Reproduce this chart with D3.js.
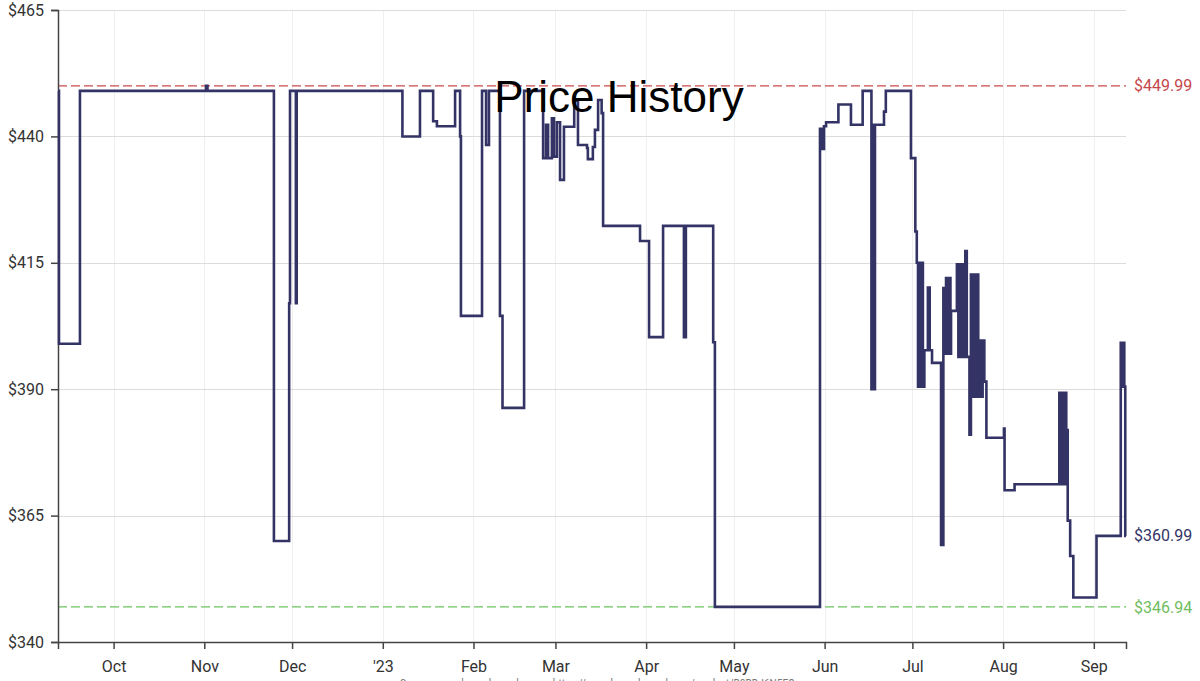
<!DOCTYPE html>
<html>
<head>
<meta charset="utf-8">
<script src="https://cdn.jsdelivr.net/npm/d3@7"></script>
<style>
  html, body { margin: 0; padding: 0; background: #fff; }
  svg { display: block; }
  .axis text { font-family: Roboto, sans-serif; font-size: 16px; fill: #333; }
  .axis path, .axis line { stroke: #444; stroke-width: 1.5; }
  .grid line { shape-rendering: crispEdges; }
</style>
</head>
<body>
<svg id="chart"></svg>
<script>
// price history, [date, price]
const priceHistory = [
  ["2022-09-12 00", 449], ["2022-09-12 08", 399], ["2022-09-19 12", 449],
  ["2022-11-01 14", 449.99], ["2022-11-02 02", 449],
  ["2022-11-24 19", 359.99], ["2022-11-30 00", 407], ["2022-11-30 07", 449],
  ["2022-12-02 07", 407], ["2022-12-02 14", 449],
  ["2023-01-07 17", 439.99], ["2023-01-13 17", 449], ["2023-01-18 05", 443],
  ["2023-01-19 12", 442], ["2023-01-25 17", 449], ["2023-01-27 10", 440],
  ["2023-01-27 17", 404.5], ["2023-02-03 22", 449], ["2023-02-05 07", 438.3],
  ["2023-02-06 07", 449], ["2023-02-10 01", 404.5], ["2023-02-10 22", 386.3],
  ["2023-02-18 07", 449], ["2023-02-24 19", 435.7], ["2023-02-25 19", 442.3],
  ["2023-02-26 12", 435.7], ["2023-02-27 19", 443.6], ["2023-02-28 12", 436],
  ["2023-03-01 12", 442.8], ["2023-03-02 14", 431.4], ["2023-03-03 22", 441.9],
  ["2023-03-07 10", 447], ["2023-03-08 17", 438.3], ["2023-03-11 19", 437.7],
  ["2023-03-12 02", 435.5], ["2023-03-13 19", 437.9], ["2023-03-14 12", 441.3],
  ["2023-03-15 14", 447.2], ["2023-03-16 19", 444.6], ["2023-03-17 07", 422.3],
  ["2023-03-29 22", 419.3], ["2023-04-02 00", 400.3], ["2023-04-06 19", 422.3],
  ["2023-04-13 22", 400.3], ["2023-04-14 14", 422.3], ["2023-04-23 22", 399.3],
  ["2023-04-24 12", 346.94],
  ["2023-05-30 10", 441.5], ["2023-05-31 02", 437.5], ["2023-05-31 19", 442],
  ["2023-06-01 12", 442.8], ["2023-06-05 17", 446.3], ["2023-06-10 00", 442.3],
  ["2023-06-14 00", 449], ["2023-06-17 00", 390], ["2023-06-17 10", 442.3],
  ["2023-06-17 20", 390], ["2023-06-18 05", 442.3], ["2023-06-21 07", 444.9],
  ["2023-06-21 22", 449], ["2023-06-30 12", 435.7], ["2023-07-02 00", 421.2],
  ["2023-07-02 12", 415], ["2023-07-02 22", 390.5], ["2023-07-03 08", 415],
  ["2023-07-03 18", 390.5], ["2023-07-04 04", 415], ["2023-07-04 14", 390.5],
  ["2023-07-05 02", 397.7], ["2023-07-06 07", 410.1], ["2023-07-06 22", 397.7],
  ["2023-07-07 17", 395.2], ["2023-07-10 19", 359.2], ["2023-07-11 14", 410],
  ["2023-07-12 00", 397], ["2023-07-12 12", 412], ["2023-07-13 00", 397],
  ["2023-07-13 12", 412], ["2023-07-14 00", 397], ["2023-07-14 05", 405.5],
  ["2023-07-16 05", 414.7], ["2023-07-16 17", 396.4], ["2023-07-17 05", 414.7],
  ["2023-07-17 17", 396.4], ["2023-07-18 05", 414.7], ["2023-07-18 17", 396.4],
  ["2023-07-19 02", 417.3], ["2023-07-19 14", 396.4], ["2023-07-20 12", 381],
  ["2023-07-21 00", 412.7], ["2023-07-21 12", 388.5], ["2023-07-22 00", 412.7],
  ["2023-07-22 12", 388.5], ["2023-07-23 00", 412.7], ["2023-07-23 12", 388.5],
  ["2023-07-24 00", 399.6], ["2023-07-24 12", 388.5], ["2023-07-25 00", 399.6],
  ["2023-07-25 14", 391.5], ["2023-07-26 07", 380.4],
  ["2023-08-01 07", 382.2], ["2023-08-01 12", 370], ["2023-08-04 22", 371.2],
  ["2023-08-20 05", 389.3], ["2023-08-20 17", 371.2], ["2023-08-21 05", 389.3],
  ["2023-08-21 17", 371.2], ["2023-08-22 05", 389.3], ["2023-08-22 14", 371.2],
  ["2023-08-22 20", 381.9], ["2023-08-23 02", 364], ["2023-08-23 22", 357],
  ["2023-08-25 00", 348.8], ["2023-09-01 22", 360.99],
  ["2023-09-10 05", 399.2], ["2023-09-10 16", 390.5], ["2023-09-11 02", 399.2],
  ["2023-09-11 10", 390.5], ["2023-09-11 18", 360.99]
];

const dateRange = ["2022-09-12 00", "2023-09-12 00"];
const priceTicks = [340, 365, 390, 415, 440, 465];
const monthTicks = ["2022-10-01", "2022-11-01", "2022-12-01", "2023-01-01", "2023-02-01", "2023-03-01",
  "2023-04-01", "2023-05-01", "2023-06-01", "2023-07-01", "2023-08-01", "2023-09-01"];
const monthLabels = ["Oct", "Nov", "Dec", "'23", "Feb", "Mar", "Apr", "May", "Jun", "Jul", "Aug", "Sep"];

const highest = 449.99;
const lowest = 346.94;
const current = 360.99;

const title = "Price History";
const source = "Source: camelcamelcamel.com \u2013 https://camelcamelcamel.com/product/B0BDJ6N5FQ";

const width = 1200, height = 681;
const margin = { top: 10, right: 74, bottom: 39, left: 58 };
const chartW = width - margin.left - margin.right;
const chartH = height - margin.top - margin.bottom;

const parse = s => d3.timeParse(s.length > 10 ? "%Y-%m-%d %H" : "%Y-%m-%d")(s);

let data = priceHistory.map(d => ({ date: parse(d[0]), value: d[1] }));
let end = parse(dateRange[1]);
data.push({ date: end, value: data[data.length - 1].value });

let x = d3.scaleTime()
  .domain([parse(dateRange[0]), end])
  .range([0, chartW]);

let y = d3.scaleLinear()
  .domain([340, 465])
  .range([chartH, 0]);

let svg = d3.select("#chart")
  .attr("width", width)
  .attr("height", height);

let g = svg.append("g")
  .attr("transform", `translate(${margin.left},${margin.top})`);

let tickDates = monthTicks.map(parse);

// grid
g.append("g").attr("class", "grid")
  .selectAll("line.v")
  .data(tickDates)
  .join("line")
  .attr("x1", d => Math.round(x(d)) + 0.5).attr("x2", d => Math.round(x(d)) + 0.5)
  .attr("y1", 0).attr("y2", chartH)
  .attr("stroke", "#efefef");

g.append("g").attr("class", "grid")
  .selectAll("line.h")
  .data(priceTicks)
  .join("line")
  .attr("x1", 0).attr("x2", chartW)
  .attr("y1", d => Math.round(y(d)) + 0.5).attr("y2", d => Math.round(y(d)) + 0.5)
  .attr("stroke", "#dcdcdc");

// reference lines
let refs = [
  { value: highest, color: "#cc4b4b" },
  { value: lowest, color: "#6cc35e" }
];

g.selectAll("line.ref")
  .data(refs)
  .join("line")
  .attr("class", "ref")
  .attr("x1", 0).attr("x2", chartW)
  .attr("y1", d => y(d.value)).attr("y2", d => y(d.value))
  .attr("stroke", d => d.color)
  .attr("stroke-width", 1.3)
  .attr("stroke-dasharray", "9,4");

// axes
g.append("g")
  .attr("class", "axis axis--x")
  .attr("transform", `translate(0,${chartH})`)
  .call(d3.axisBottom(x)
    .tickValues(tickDates)
    .tickFormat((d, i) => monthLabels[i])
    .tickSize(7)
    .tickPadding(12));

g.append("g")
  .attr("class", "axis axis--y")
  .call(d3.axisLeft(y)
    .tickValues(priceTicks)
    .tickFormat(d => "$" + d)
    .tickSize(7)
    .tickPadding(7));

// price line
let line = d3.line()
  .curve(d3.curveStepAfter)
  .x(d => x(d.date))
  .y(d => y(d.value));

g.append("path")
  .datum(data)
  .attr("fill", "none")
  .attr("stroke", "#333366")
  .attr("stroke-width", 2.6)
  .attr("stroke-linejoin", "miter")
  .attr("d", line);

// right labels
let labels = [
  { value: highest, color: "#c5474a" },
  { value: current, color: "#333366" },
  { value: lowest, color: "#72bd62" }
];

g.selectAll("text.lbl")
  .data(labels)
  .join("text")
  .attr("class", "lbl")
  .attr("x", chartW + 8)
  .attr("y", d => y(d.value))
  .attr("dy", "0.35em")
  .attr("font-family", "Roboto, sans-serif")
  .attr("font-size", 16)
  .attr("fill", d => d.color)
  .text(d => "$" + d.value.toFixed(2));

// title over the plot
svg.append("text")
  .attr("x", 619)
  .attr("y", 112)
  .attr("text-anchor", "middle")
  .attr("font-family", "'Liberation Sans', Arial, sans-serif")
  .attr("font-size", 44)
  .attr("fill", "#000")
  .text(title);

// source line, mostly below the frame as in the original
svg.append("text")
  .attr("x", 400)
  .attr("y", 688)
  .attr("textLength", 395)
  .attr("lengthAdjust", "spacingAndGlyphs")
  .attr("font-family", "Roboto, sans-serif")
  .attr("font-size", 12)
  .attr("fill", "#777")
  .text(source);
</script>
</body>
</html>
